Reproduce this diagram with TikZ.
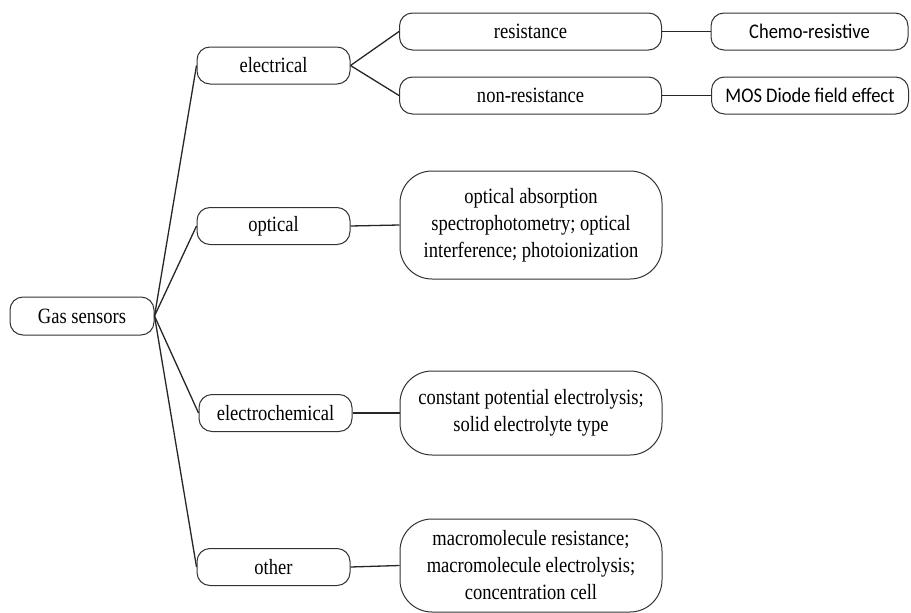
\documentclass[tikz,border=0pt]{standalone}
\usepackage{fontspec}
% tall, slightly condensed faces for the box labels
\setmainfont{Liberation Serif}[FakeStretch=0.85]
\newfontfamily\calibrisans{Carlito}[FakeStretch=0.89]
\begin{document}
\begin{tikzpicture}[x=1pt,y=-1pt,
  box/.style={draw=black!80, line width=1pt, rounded corners=13pt, fill=white,
    inner sep=0pt, minimum height=37pt, align=center,
    font=\fontsize{21.8}{27}\selectfont},
  mid/.style={box, minimum width=153pt},
  leaf/.style={box, minimum width=262pt},
  tip/.style={box, minimum width=197pt, font=\calibrisans\fontsize{20.8}{27}\selectfont},
  desc/.style={box, minimum width=262pt, rounded corners=32pt},
  link/.style={draw=black!85, line width=1.3pt}]
\useasboundingbox (0,0) rectangle (911,613);

% root
\node[box, minimum width=144pt, minimum height=38pt] (gas) at (82,316) {Gas sensors};

% first level
\node[mid] (elec)  at (273.5,65.5) {electrical};
\node[mid] (opt)   at (273.5,226)  {optical};
\node[mid] (echem) at (275.5,413)  {electrochemical};
\node[mid] (oth)   at (273.5,567)  {other};

% electrical branch
\node[leaf] (res)  at (530.5,31.5) {resistance};
\node[leaf] (nres) at (530.5,95.5) {non-resistance};
\node[tip] (chemo) at (809.5,31.5) {Chemo-resistive};
\node[tip] (mos)   at (810,95.5)   {MOS Diode field effect};

% descriptions
\node[desc, minimum height=108pt] (optd) at (531,225)
  {optical absorption\\spectrophotometry; optical\\interference; photoionization};
\node[desc, minimum height=84pt] (echd) at (531,413)
  {constant potential electrolysis;\\solid electrolyte type};
\node[desc, minimum height=93pt] (othd) at (531,565.5)
  {macromolecule resistance;\\macromolecule electrolysis;\\concentration cell};

% connectors
\foreach \n in {elec,opt,echem,oth}
  \draw[link] (gas.east) -- (\n.west);
\draw[link] (elec.east) -- (res.west);
\draw[link] (elec.east) -- (nres.west);
\draw[link] (res.east) -- (chemo.west);
\draw[link] (nres.east) -- (mos.west);
\draw[link] (opt.east) -- (optd.west);
\draw[link] (echem.east) -- (echd.west);
\draw[link] (oth.east) -- (othd.west);
\end{tikzpicture}
\end{document}
